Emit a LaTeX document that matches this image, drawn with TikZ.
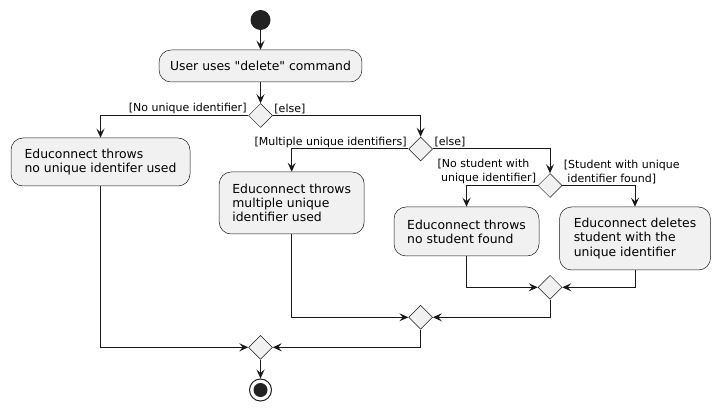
\documentclass[tikz,border=0pt]{standalone}
\usepackage{fontspec}
\newfontfamily\umlfont{DejaVu Sans}
\definecolor{umlInk}{HTML}{181818}
\definecolor{umlFill}{HTML}{F1F1F1}
\definecolor{umlDot}{HTML}{222222}
\usetikzlibrary{arrows.meta,positioning,shapes.geometric}

\begin{document}
\begin{tikzpicture}[
  x=1pt,y=-1pt,
  font=\umlfont\fontsize{12.4}{14.2}\selectfont,
  act/.style={draw=umlInk,fill=umlFill,line width=0.5pt,rounded corners=12pt,align=left,inner xsep=11pt,inner ysep=0pt},
  choice/.style={diamond,draw=umlInk,fill=umlFill,line width=0.5pt,minimum width=24pt,minimum height=24pt,inner sep=0pt},
  flow/.style={draw=umlInk,line width=1pt,-{Stealth[length=9pt,width=8pt,inset=3.5pt]}},
  guard/.style={font=\umlfont\fontsize{11}{13.6}\selectfont,inner sep=1.5pt,align=left}
]
\useasboundingbox (0,0) rectangle (719,411);
% start and first action
\node[circle,fill=umlDot,minimum size=20pt,inner sep=0pt] (startDot) at (260.5,20) {};
\node[act,minimum width=201pt,minimum height=32pt] (askDelete) at (260.5,66) {User uses "delete" command};
% decisions
\node[choice] (d1) at (260.5,115.5) {};
\node[choice] (d2) at (420.6,149) {};
\node[choice] (d3) at (550,185.5) {};
% actions
\node[act,minimum width=179pt,minimum height=48pt] (noIdent) at (100.5,162) {Educonnect throws\\no unique identifer used};
\node[act,minimum width=145pt,minimum height=62pt] (multiIdent) at (291.7,203) {Educonnect throws\\multiple unique\\identifier used};
\node[act,minimum width=145pt,minimum height=49pt] (noStudent) at (466.5,231.5) {Educonnect throws\\no student found};
\node[act,minimum width=151pt,minimum height=63pt] (deleted) at (635,238.5) {Educonnect deletes\\student with the\\unique identifier};
% merges
\node[choice] (d4) at (550,287.3) {};
\node[choice] (d5) at (420.6,317.3) {};
\node[choice] (d6) at (260.5,347.3) {};
\node[circle,draw=umlDot,line width=1pt,fill=white,minimum size=22pt,inner sep=0pt] (endDot) at (260.5,390) {};
\fill[umlDot] (endDot.center) circle (7pt);
% guards
\node[guard,anchor=south east] at (d1.west) {[No unique identifier]};
\node[guard,anchor=south west] at (d1.east) {[else]};
\node[guard,anchor=south east] at (d2.west) {[Multiple unique identifiers]};
\node[guard,anchor=south west] at (d2.east) {[else]};
\node[guard,anchor=south east] at (d3.west) {[No student with\\\hspace*{3.5pt}unique identifier]};
\node[guard,anchor=south west] at (d3.east) {[Student with unique\\\hspace*{3.5pt}identifier found]};
% connectors
\draw[flow] (startDot.south) -- (askDelete.north);
\draw[flow] (askDelete.south) -- (d1.north);
\draw[flow] (d1.west) -| (noIdent.north);
\draw[flow] (d1.east) -| (d2.north);
\draw[flow] (d2.west) -| (multiIdent.north);
\draw[flow] (d2.east) -| (d3.north);
\draw[flow] (d3.west) -| (noStudent.north);
\draw[flow] (d3.east) -| (deleted.north);
\draw[flow] (noStudent.south) |- (d4.west);
\draw[flow] (deleted.south) |- (d4.east);
\draw[flow] (multiIdent.south) |- (d5.west);
\draw[flow] (d4.south) |- (d5.east);
\draw[flow] (noIdent.south) |- (d6.west);
\draw[flow] (d5.south) |- (d6.east);
\draw[flow] (d6.south) -- (endDot.north);
\end{tikzpicture}
\end{document}
